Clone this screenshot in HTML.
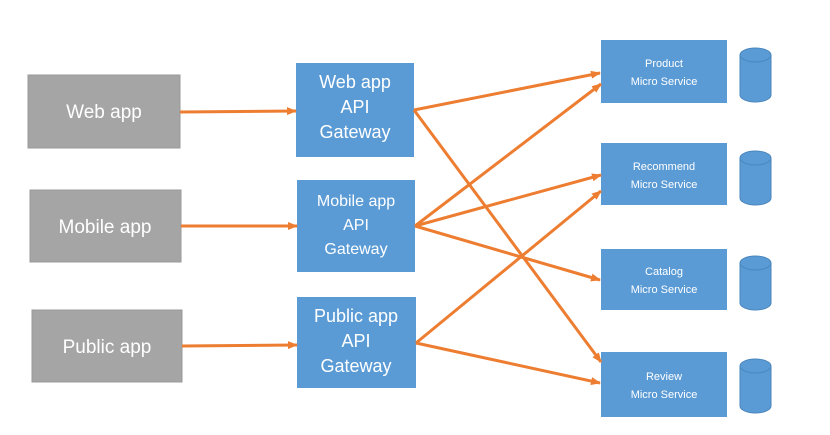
<!DOCTYPE html>
<html><head><style>
body{margin:0;background:#fff;}
svg text{font-family:"Liberation Sans",sans-serif;fill:#fff;text-anchor:middle;}
</style></head><body>
<svg width="830" height="430" viewBox="0 0 830 430" xmlns="http://www.w3.org/2000/svg">
<defs>
<marker id="a" markerWidth="10" markerHeight="8" refX="9" refY="4" orient="auto" markerUnits="userSpaceOnUse">
<path d="M0,0 L10,4 L0,8 z" fill="#ed7d31"/></marker>
</defs>
<g fill="#a5a5a5" stroke="#999" stroke-width="1">
<rect x="28" y="75" width="152" height="73"/>
<rect x="30" y="190" width="151" height="72"/>
<rect x="32" y="310" width="150" height="72"/>
</g>
<g font-size="19">
<text x="104" y="118">Web app</text>
<text x="105" y="233">Mobile app</text>
<text x="107" y="353">Public app</text>
</g>
<g fill="#5b9bd5">
<rect x="296" y="63" width="118" height="94"/>
<rect x="297" y="180" width="118" height="92"/>
<rect x="297" y="297" width="119" height="91"/>
<rect x="601" y="40" width="126" height="63"/>
<rect x="601" y="143" width="126" height="62"/>
<rect x="601" y="249" width="126" height="61"/>
<rect x="601" y="352" width="126" height="65"/>
</g>
<g font-size="18">
<text x="355" y="88">Web app</text><text x="355" y="113">API</text><text x="355" y="138">Gateway</text>
</g>
<g font-size="16">
<text x="356" y="206">Mobile app</text><text x="356" y="230">API</text><text x="356" y="254">Gateway</text>
</g>
<g font-size="18">
<text x="356" y="322">Public app</text><text x="356" y="347">API</text><text x="356" y="372">Gateway</text>
</g>
<g font-size="11">
<text x="664" y="67">Product</text><text x="664" y="85">Micro Service</text>
<text x="664" y="170">Recommend</text><text x="664" y="188">Micro Service</text>
<text x="664" y="275">Catalog</text><text x="664" y="293">Micro Service</text>
<text x="664" y="380">Review</text><text x="664" y="398">Micro Service</text>
</g>
<g fill="#5b9bd5" stroke="#4a86bd" stroke-width="1">
<path d="M740,55 v40 a15.5,7 0 0 0 31,0 v-40 z"/><ellipse cx="755.5" cy="55" rx="15.5" ry="7"/>
<path d="M740,158 v40 a15.5,7 0 0 0 31,0 v-40 z"/><ellipse cx="755.5" cy="158" rx="15.5" ry="7"/>
<path d="M740,263 v40 a15.5,7 0 0 0 31,0 v-40 z"/><ellipse cx="755.5" cy="263" rx="15.5" ry="7"/>
<path d="M740,366 v40 a15.5,7 0 0 0 31,0 v-40 z"/><ellipse cx="755.5" cy="366" rx="15.5" ry="7"/>
</g>
<g stroke="#ed7d31" stroke-width="3" fill="none" marker-end="url(#a)">
<line x1="180" y1="112" x2="296" y2="111"/>
<line x1="181" y1="226" x2="297" y2="226"/>
<line x1="182" y1="346" x2="297" y2="345"/>
<line x1="414" y1="110" x2="600" y2="73"/>
<line x1="414" y1="110" x2="601" y2="362"/>
<line x1="415" y1="226" x2="601" y2="84"/>
<line x1="415" y1="226" x2="601" y2="175"/>
<line x1="415" y1="226" x2="600" y2="280"/>
<line x1="416" y1="343" x2="601" y2="191"/>
<line x1="416" y1="343" x2="600" y2="383"/>
</g>
</svg>
</body></html>
